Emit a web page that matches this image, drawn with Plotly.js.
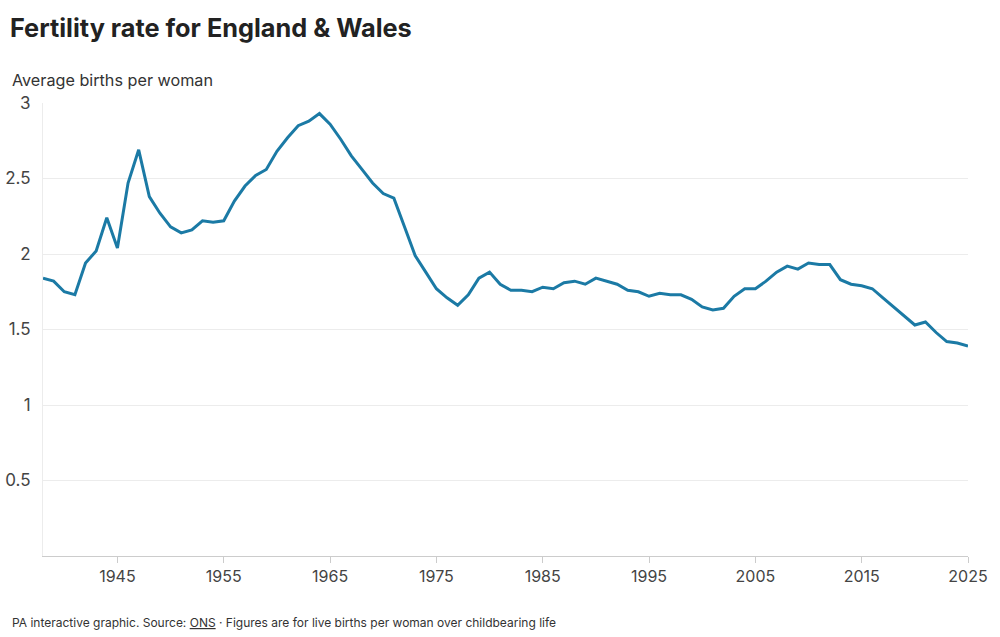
<!DOCTYPE html>
<html>
<head>
<meta charset="utf-8">
<script src="https://cdn.plot.ly/plotly-3.0.1.min.js"></script>
<style>html,body{margin:0;padding:0;background:#fff;}#chart{width:1000px;height:637px;}</style>
</head>
<body>
<div id="chart"></div>
<script>
const years = [];
for (let y = 1938; y <= 2025; y++) years.push(y);
const fertility = [
  1.84, 1.82, 1.75, 1.73, 1.94, 2.02, 2.24, 2.04, 2.47, 2.69,
  2.38, 2.27, 2.18, 2.14, 2.16, 2.22, 2.21, 2.22, 2.35, 2.45,
  2.52, 2.56, 2.68, 2.77, 2.85, 2.88, 2.93, 2.86, 2.76, 2.65,
  2.56, 2.47, 2.40, 2.37, 2.18, 1.99, 1.88, 1.77, 1.71, 1.66,
  1.73, 1.84, 1.88, 1.80, 1.76, 1.76, 1.75, 1.78, 1.77, 1.81,
  1.82, 1.80, 1.84, 1.82, 1.80, 1.76, 1.75, 1.72, 1.74, 1.73,
  1.73, 1.70, 1.65, 1.63, 1.64, 1.72, 1.77, 1.77, 1.82, 1.88,
  1.92, 1.90, 1.94, 1.93, 1.93, 1.83, 1.80, 1.79, 1.77, 1.71,
  1.65, 1.59, 1.53, 1.55, 1.48, 1.42, 1.41, 1.39
];
const xTicks = [1945, 1955, 1965, 1975, 1985, 1995, 2005, 2015, 2025];
const yTicks = [0.5, 1, 1.5, 2, 2.5, 3];
const yTickText = ['0.5', '1', '1.5', '2', '2.5', '3'];

const FONT = 'Inter, "Noto Sans", sans-serif';

const trace = {
  x: years,
  y: fertility,
  type: 'scatter',
  mode: 'lines',
  line: {color: '#1b7aa5', width: 3},
  hoverinfo: 'x+y'
};

const layout = {
  width: 1000,
  height: 637,
  margin: {l: 43, r: 32, t: 103, b: 81},
  paper_bgcolor: '#fff',
  plot_bgcolor: '#fff',
  font: {family: FONT, color: '#444'},
  showlegend: false,
  title: {
    text: '<b>Fertility rate for England & Wales</b>',
    font: {family: FONT, size: 25.3, color: '#222'},
    xref: 'container', x: 0.01, xanchor: 'left',
    yref: 'container', y: 1 - 28/637, yanchor: 'middle'
  },
  xaxis: {
    range: [1938, 2025],
    tickvals: xTicks,
    ticktext: xTicks.map(String),
    showgrid: false,
    zeroline: false,
    showline: true,
    linecolor: '#cccccc',
    linewidth: 1,
    ticks: 'outside',
    ticklen: 6,
    tickcolor: '#cccccc',
    tickfont: {family: FONT, size: 16, color: '#444'},
    fixedrange: true
  },
  yaxis: {
    range: [0, 3],
    tickvals: yTicks,
    ticktext: yTickText,
    showgrid: true,
    gridcolor: '#ececec',
    gridwidth: 1,
    zeroline: false,
    showline: true,
    linecolor: '#ececec',
    ticks: '',
    ticklabelstandoff: 8,
    tickfont: {family: FONT, size: 17, color: '#444'},
    fixedrange: true
  },
  annotations: [
    {
      text: 'Average births per woman',
      xref: 'paper', yref: 'paper',
      x: (10 - 43) / 925, y: (556 - 80) / 453,
      xanchor: 'left', yanchor: 'middle',
      showarrow: false,
      font: {family: FONT, size: 16.2, color: '#333'}
    },
    {
      text: 'PA interactive graphic. Source: <u>ONS</u> · Figures are for live births per woman over childbearing life',
      xref: 'paper', yref: 'paper',
      x: (10 - 43) / 925, y: (556 - 622) / 453,
      xanchor: 'left', yanchor: 'middle',
      showarrow: false,
      font: {family: FONT, size: 12, color: '#333'}
    }
  ]
};

Plotly.newPlot('chart', [trace], layout, {displayModeBar: false, staticPlot: true});
</script>
</body>
</html>
